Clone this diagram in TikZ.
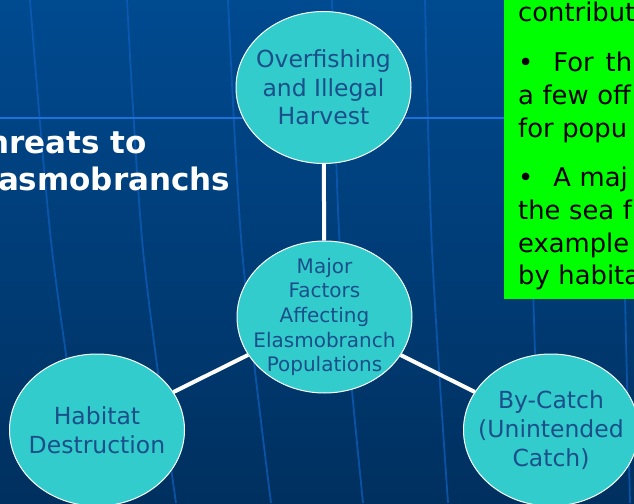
\documentclass[tikz,border=0pt]{standalone}
\usepackage{fontspec}
\setmainfont{DejaVu Sans}
\usetikzlibrary{shapes.geometric}
\definecolor{seatop}{HTML}{004A90}
\definecolor{seabot}{HTML}{00305F}
\definecolor{gridblue}{HTML}{0E5EBC}
\definecolor{eqblue}{HTML}{1E70DA}
\definecolor{turq}{HTML}{33CCCC}
\definecolor{ink}{HTML}{1B4F8A}
\definecolor{notegreen}{HTML}{00FF00}

\begin{document}
\begin{tikzpicture}[x=1pt,y=-1pt,
  blob/.style={ellipse,draw=white,line width=1pt,fill=turq,minimum width=175pt,minimum height=152pt,inner sep=0pt},
  blobtext/.style={text=ink,align=center,inner sep=0pt,font=\fontsize{23.5}{28.7}\selectfont},
  link/.style={draw=white,line width=4pt},
  meridian/.style={draw=gridblue,line width=1.8pt,opacity=.75},
  title/.style={text=white,anchor=base west,inner sep=0pt,font=\fontsize{31}{37}\selectfont\bfseries}]
\useasboundingbox (0,0) rectangle (634,503);
\clip (0,0) rectangle (634,503);
\shade[top color=seatop,bottom color=seabot] (0,0) rectangle (634,503);
\foreach \a/\b/\c in {30/52/88,127/143/176,228/242/271,332/340/363,425/432/448,528/532/540,620/624/630}
  \draw[meridian] plot[smooth] coordinates {(\a,0) (\b,250) (\c,503)};
\draw[eqblue,line width=2pt] (0,117.5) -- (634,117.5);

\node[title] (threats) at (-34,153) {Threats to};
\node[title] (elasmo) at (-34,190) {Elasmobranchs};

% notes panel on the right
\fill[notegreen] (504,-5) rectangle (640,299);
\node[anchor=base west,text width=200pt,inner sep=0pt,align=left,font=\fontsize{25.8}{32.7}\selectfont] (notes) at (518,22)
  {contribut\\[17pt]
   •\hspace{20pt}For\hspace{12pt}th\\
   a few off\\
   for popu\\[17pt]
   •\hspace{20pt}A maj\\
   the sea f\\
   example\\
   by habita};

\node[blob] (overfish) at (323.5,87.5) {};
\node[blob] (factors) at (324.5,317) {};
\node[blob] (habitat) at (97,430) {};
\node[blob] (bycatch) at (551,430) {};
\draw[link] (overfish) -- (factors);
\draw[link] (factors) -- (habitat);
\draw[link] (factors) -- (bycatch);

\node[blobtext] (overfishtext) at (overfish) {Overfishing\\and Illegal\\Harvest};
\node[blobtext,font=\fontsize{20}{24.7}\selectfont] (factorstext) at (factors) {Major\\Factors\\Affecting\\Elasmobranch\\Populations};
\node[blobtext] (habitattext) at (habitat) {Habitat\\Destruction};
\node[blobtext] (bycatchtext) at (bycatch) {By-Catch\\(Unintended\\Catch)};
\end{tikzpicture}
\end{document}
